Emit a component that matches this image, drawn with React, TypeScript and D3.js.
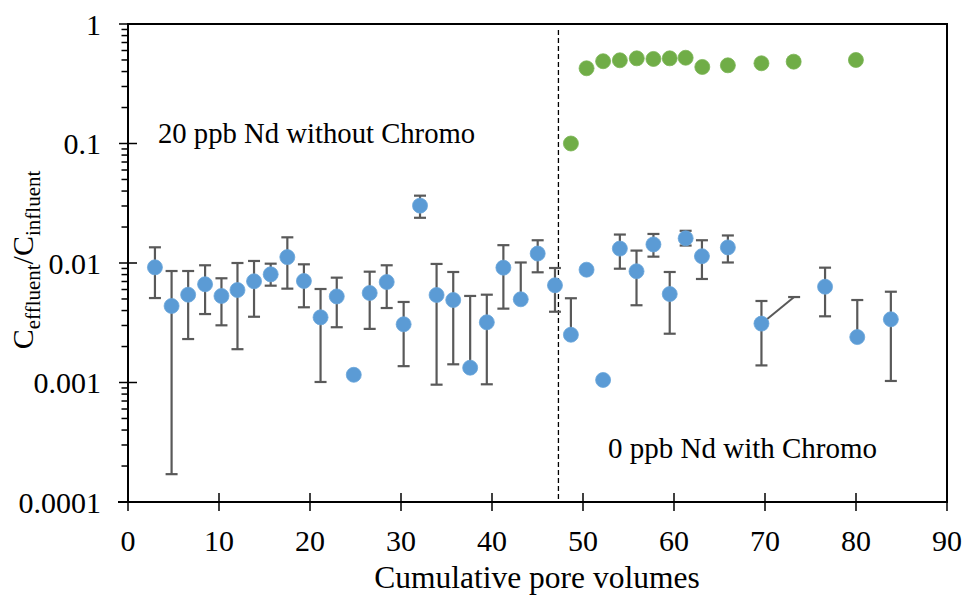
import React from "react";
import * as d3 from "d3";

const pvBlue = [2.96, 4.79, 6.61, 8.47, 10.27, 12.03, 13.85, 15.68, 17.51, 19.33, 21.16, 22.94, 24.81, 26.56, 28.43, 30.29, 32.09, 33.91, 35.74, 37.6, 39.43, 41.25, 43.16, 45.02, 46.92, 48.67, 50.39, 52.21, 54.05, 55.88, 57.74, 59.53, 61.28, 63.07, 65.92, 69.61, 76.6, 80.14, 83.83];
const ratioBlue = [0.0092, 0.00437, 0.00543, 0.00664, 0.0053, 0.00594, 0.00703, 0.00804, 0.0112, 0.00707, 0.00351, 0.00525, 0.00116, 0.00561, 0.00693, 0.00307, 0.0302, 0.0054, 0.0049, 0.00133, 0.00319, 0.00914, 0.00497, 0.012, 0.00651, 0.00251, 0.00879, 0.00105, 0.0132, 0.00853, 0.0143, 0.0055, 0.0161, 0.0114, 0.0135, 0.00311, 0.00633, 0.0024, 0.00338];
const upperBlue: (number | null)[] = [0.01353, 0.00857, 0.00857, 0.00957, 0.00745, 0.01, 0.0104, 0.00987, 0.0164, 0.00975, 0.00606, 0.00754, null, 0.00846, 0.00957, 0.00472, 0.0366, 0.00982, 0.00841, 0.0053, 0.00543, 0.0141, 0.0101, 0.0155, 0.00908, 0.00507, null, null, 0.0173, 0.0127, 0.0175, 0.00841, 0.0186, 0.0155, 0.017, 0.00481, 0.00914, 0.0049, 0.00575];
const lowerBlue: (number | null)[] = [0.00509, 0.000171, 0.00231, 0.00374, 0.00301, 0.0019, 0.00355, 0.00646, 0.0061, 0.00426, 0.00101, 0.0029, null, 0.00281, 0.0042, 0.00137, 0.0239, 0.000959, 0.00142, null, 0.000966, 0.00415, null, 0.00836, 0.00391, null, null, null, 0.00896, 0.00443, 0.0113, 0.00256, 0.014, 0.00735, 0.0101, 0.00139, 0.00358, null, 0.00103];

const pvGreen = [48.67, 50.39, 52.21, 54.05, 55.91, 57.74, 59.53, 61.28, 63.11, 65.92, 69.61, 73.15, 79.99];
const ratioGreen = [0.1, 0.426, 0.488, 0.497, 0.516, 0.51, 0.516, 0.522, 0.437, 0.451, 0.469, 0.484, 0.5];

const strayX = [69.61, 73.2];
const strayY = [0.00311, 0.00519];

const dividerPV = 47.3;
const xTicks = [0, 10, 20, 30, 40, 50, 60, 70, 80, 90];
const yTicks = [1, 0.1, 0.01, 0.001, 0.0001];
const yTickLabels = ["1", "0.1", "0.01", "0.001", "0.0001"];
const noteLeft = "20 ppb Nd without Chromo";
const noteRight = "0 ppb Nd with Chromo";
const xTitle = "Cumulative pore volumes";

const BLUE = "#5B9BD5";
const GREEN = "#70AD47";
const ERR = "#595959";
const FONT = "'Liberation Serif', 'Times New Roman', serif";

export default function App() {
  const W = 965, H = 596;
  const x = d3.scaleLinear().domain([0, 90]).range([128, 947]);
  const y = d3.scaleLog().domain([0.0001, 1]).range([502, 24]);
  const minor: number[] = [];
  for (let e = -4; e < 0; e++) for (let m = 2; m <= 9; m++) minor.push(m * Math.pow(10, e));
  const capW = 6;
  const strayLine = d3.line<number>().x((_, i) => x(strayX[i])).y((_, i) => y(strayY[i]));

  return (
    <svg width={W} height={H} style={{ position: "absolute", left: 0, top: 0, background: "#fff" }} fontFamily={FONT}>
      <rect width={W} height={H} fill="#fff" />
      {/* frame */}
      <line x1={128} x2={947} y1={24} y2={24} stroke="#000" strokeWidth={2} />
      <line x1={947} x2={947} y1={23} y2={503} stroke="#000" strokeWidth={2} />
      {/* divider */}
      <line x1={x(dividerPV)} x2={x(dividerPV)} y1={y(1) + 6} y2={y(0.0001)} stroke="#000" strokeWidth={1.3} strokeDasharray="5,3" />
      {/* axes */}
      <line x1={128} x2={128} y1={23} y2={503} stroke="#000" strokeWidth={2} />
      <line x1={118} x2={948} y1={502} y2={502} stroke="#000" strokeWidth={2} />
      {xTicks.map((t) => (
        <g key={"xt" + t}>
          <line x1={x(t)} x2={x(t)} y1={493} y2={511} stroke="#000" strokeWidth={1.5} />
          <text x={x(t)} y={551} fontSize={30} textAnchor="middle">{t}</text>
        </g>
      ))}
      {minor.map((m, i) => (
        <line key={"mn" + i} x1={121.5} x2={128} y1={y(m)} y2={y(m)} stroke="#000" strokeWidth={1.5} />
      ))}
      {yTicks.map((t, i) => (
        <g key={"yt" + i}>
          <line x1={119} x2={137} y1={y(t)} y2={y(t)} stroke="#000" strokeWidth={1.5} />
          <text x={101} y={y(t) + 10.5} fontSize={30} textAnchor="end">{yTickLabels[i]}</text>
        </g>
      ))}
      {/* error bars */}
      {pvBlue.map((pv, i) => {
        const cx = x(pv);
        const cy = y(ratioBlue[i]);
        const up = upperBlue[i];
        const lo = lowerBlue[i];
        return (
          <g key={"eb" + i} stroke={ERR} strokeWidth={2.2}>
            {up != null && <line x1={cx} x2={cx} y1={cy} y2={y(up)} />}
            {up != null && <line x1={cx - capW} x2={cx + capW} y1={y(up)} y2={y(up)} />}
            {lo != null && <line x1={cx} x2={cx} y1={cy} y2={y(lo)} />}
            {lo != null && <line x1={cx - capW} x2={cx + capW} y1={y(lo)} y2={y(lo)} />}
          </g>
        );
      })}
      <path d={strayLine(strayX) || ""} stroke={ERR} strokeWidth={2} fill="none" />
      <line x1={x(strayX[1]) - capW} x2={x(strayX[1]) + capW} y1={y(strayY[1])} y2={y(strayY[1])} stroke={ERR} strokeWidth={2.2} />
      {/* points */}
      {pvBlue.map((pv, i) => (
        <circle key={"b" + i} cx={x(pv)} cy={y(ratioBlue[i])} r={7.5} fill={BLUE} stroke="#6aa6db" strokeWidth={0.8} />
      ))}
      {pvGreen.map((pv, i) => (
        <circle key={"g" + i} cx={x(pv)} cy={y(ratioGreen[i])} r={7.5} fill={GREEN} stroke="#7bb555" strokeWidth={0.8} />
      ))}
      {/* annotations */}
      <text x={158} y={142.5} fontSize={28.7}>{noteLeft}</text>
      <text x={608} y={458} fontSize={29}>{noteRight}</text>
      {/* axis titles */}
      <text x={537} y={588} fontSize={31.5} textAnchor="middle">{xTitle}</text>
      <text transform="translate(33,260) rotate(-90)" fontSize={30} textAnchor="middle">
        C<tspan fontSize={21} dy={7}>effluent</tspan><tspan dy={-7}>/C</tspan><tspan fontSize={21} dy={7}>influent</tspan>
      </text>
    </svg>
  );
}
